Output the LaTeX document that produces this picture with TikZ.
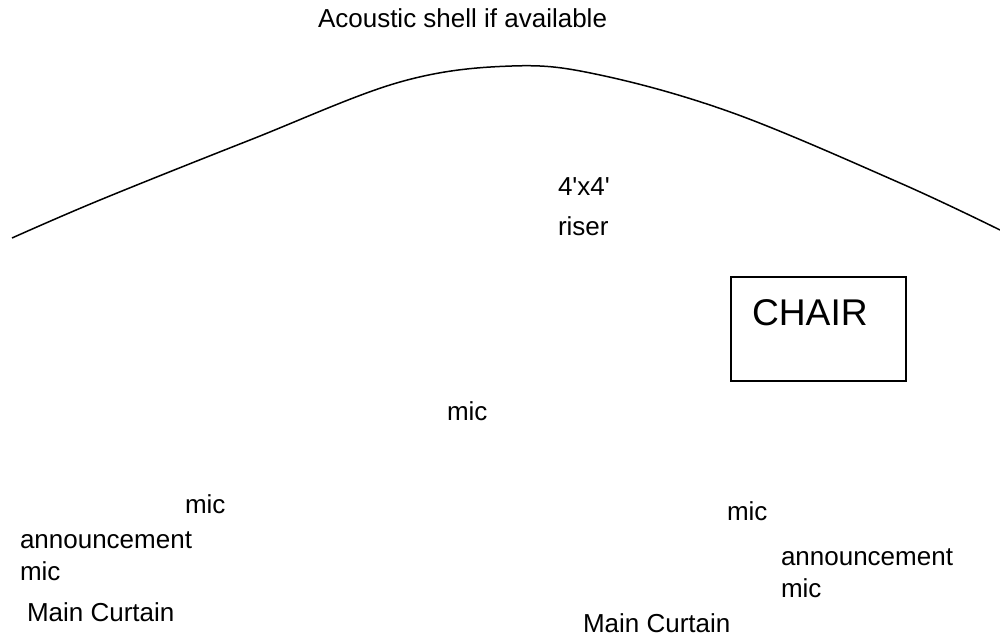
\documentclass[tikz,border=0pt]{standalone}
\usepackage{fontspec}
\setmainfont{Liberation Sans}[Ligatures=TeXOff]
\begin{document}
\begin{tikzpicture}[x=0.5pt,y=-0.5pt,
  lbl/.style={inner sep=0pt,outer sep=0pt,anchor=base west,align=left,
    font=\fontsize{13}{16}\selectfont},
  riserlbl/.style={lbl,font=\fontsize{13}{20}\selectfont},
  chairbox/.style={draw,line width=1pt,minimum width=87.5pt,minimum height=52pt,inner sep=0pt,anchor=north west},
  shell/.style={line width=0.75pt}]
\useasboundingbox (0,0) rectangle (1000,636);
% acoustic shell curve
\draw[shell] plot[smooth,tension=0.6] coordinates
  {(12,238) (100,200) (250,140) (400,82) (512,66) (600,75) (733,113) (900,183) (1000,230)};
\node[lbl] (shell) at (318,28) {Acoustic shell if available};
\node[riserlbl] (riser) at (558,235) {4'x4'\\riser};
\node[chairbox] (chairbox) at (730,276) {};
\node[lbl,font=\fontsize{18.6}{22}\selectfont] (chair) at (752,325) {CHAIR};
\node[lbl] (micc) at (447,420) {mic};
\node[lbl] (micl) at (185,513) {mic};
\node[lbl] (annl) at (20,580) {announcement\\mic};
\node[lbl] (curtl) at (27,621) {Main Curtain};
\node[lbl] (micr) at (727,520) {mic};
\node[lbl] (annr) at (781,597) {announcement\\mic};
\node[lbl] (curtr) at (583,632) {Main Curtain};
\end{tikzpicture}
\end{document}
